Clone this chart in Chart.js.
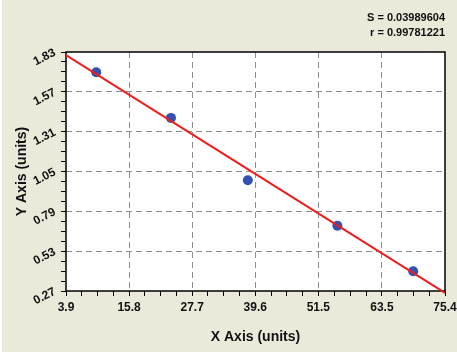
<!DOCTYPE html>
<html><head><meta charset="utf-8">
<style>html,body{margin:0;padding:0;background:#fff;overflow:hidden}#wrap{width:457px;height:358px;position:relative}</style>
<script src="https://cdn.jsdelivr.net/npm/chart.js@4"></script>
</head><body><div id="wrap"><canvas id="c" width="457" height="358"></canvas></div>
<script>
const xPoints = [9.6, 23.7, 38.2, 55.1, 69.4];
const yPoints = [1.698, 1.400, 0.993, 0.696, 0.399];
const fitX = [3.9, 75.4];
const fitY = [1.809, 0.258];
const xTickLabels = ['3.9','15.8','27.7','39.6','51.5','63.5','75.4'];
const yTickLabels = ['0.27','0.53','0.79','1.05','1.31','1.57','1.83'];
const statLines = ['S = 0.03989604', 'r = 0.99781221'];
const xTitle = 'X Axis (units)';
const yTitle = 'Y Axis (units)';

function buildTicks(labels){
  const vals = labels.map(Number);
  const out = [];
  for (let i = 0; i < vals.length; i++) {
    out.push({value: vals[i], label: labels[i], isMajor: true});
    if (i < vals.length - 1) {
      for (let k = 1; k < 4; k++) out.push({value: vals[i] + (vals[i+1]-vals[i])*k/4, label: '', isMajor: false});
    }
  }
  return out;
}
const gridColor = (ctx) => {
  const t = ctx.tick; const n = ctx.scale ? ctx.scale.ticks.length : 0;
  return (t && t.isMajor && ctx.index !== 0 && ctx.index !== n - 1) ? '#8e8e8e' : 'rgba(0,0,0,0)';
};

Chart.defaults.font.family = "'Liberation Sans', Arial, sans-serif";
Chart.defaults.color = '#111';

const bgPlugin = {
  id: 'bg',
  beforeDraw(chart){
    const c = chart.ctx, a = chart.chartArea;
    c.save();
    c.fillStyle = '#fff'; c.fillRect(0,0,chart.width,chart.height);
    c.fillStyle = '#ebe9d9'; c.fillRect(2,0,chart.width-2,352);
    c.fillStyle = '#fff'; c.fillRect(a.left,a.top,a.right-a.left,a.bottom-a.top);
    c.restore();
  },
  beforeDatasetsDraw(chart){
    const c = chart.ctx, a = chart.chartArea;
    c.save();
    c.strokeStyle = '#000'; c.lineWidth = 1.5;
    c.strokeRect(a.left, a.top, a.right-a.left, a.bottom-a.top);
    c.restore();
  }
};

new Chart(document.getElementById('c'), {
  type: 'scatter',
  data: {
    datasets: [
      {
        type: 'line', order: 0,
        data: fitX.map((x,i)=>({x, y: fitY[i]})),
        borderColor: '#ee1d1d', borderWidth: 2, pointRadius: 0, fill: false, clip: 4
      },
      {
        order: 1,
        data: xPoints.map((x,i)=>({x, y: yPoints[i]})),
        backgroundColor: '#3152b0', borderColor: '#3152b0', pointRadius: 5, borderWidth: 0
      }
    ]
  },
  options: {
    responsive: false, animation: false, events: [],
    layout: {padding: {left: 0, right: 12, top: 0, bottom: 0}},
    plugins: {
      legend: {display: false}, tooltip: {enabled: false},
      title: {
        display: true, text: statLines, align: 'end',
        font: {size: 11, weight: 'bold', lineHeight: '15px'},
        color: '#111', padding: {top: 10.8, bottom: 11.2}
      }
    },
    scales: {
      x: {
        type: 'linear', min: 3.9, max: 75.4,
        afterBuildTicks: (s) => { s.ticks = buildTicks(xTickLabels); },
        afterFit: (s) => { s.height = 67; s.paddingLeft = 0; s.paddingRight = 0; },
        ticks: {autoSkip: false, maxRotation: 0, minRotation: 0, padding: 4.5,
          font: {size: 12, weight: 'bold'}, color: '#111',
          callback: (v, i, ticks) => ticks[i].label},
        grid: {color: gridColor, tickColor: '#000', tickLength: 5, lineWidth: 1, tickWidth: 1},
        border: {display: false, dash: [6,4]},
        title: {display: true, text: xTitle, font: {size: 14, weight: 'bold'}, color: '#111', padding: {top: 0, bottom: 12.6}}
      },
      y: {
        type: 'linear', min: 0.27, max: 1.83,
        afterBuildTicks: (s) => { s.ticks = buildTicks(yTickLabels); },
        afterFit: (s) => { s.width = 66; s.paddingTop = 0; s.paddingBottom = 0; },
        ticks: {autoSkip: false, minRotation: 27, maxRotation: 27, padding: 6,
          font: {size: 12, weight: 'bold'}, color: '#111',
          callback: (v, i, ticks) => ticks[i].label},
        grid: {color: gridColor, tickColor: '#000', tickLength: 5, lineWidth: 1, tickWidth: 1},
        border: {display: false, dash: [6,4]},
        title: {display: true, text: yTitle, font: {size: 14, weight: 'bold'}, color: '#111', padding: {top: 13.3, bottom: 0}}
      }
    }
  },
  plugins: [bgPlugin]
});
</script>
</body></html>
